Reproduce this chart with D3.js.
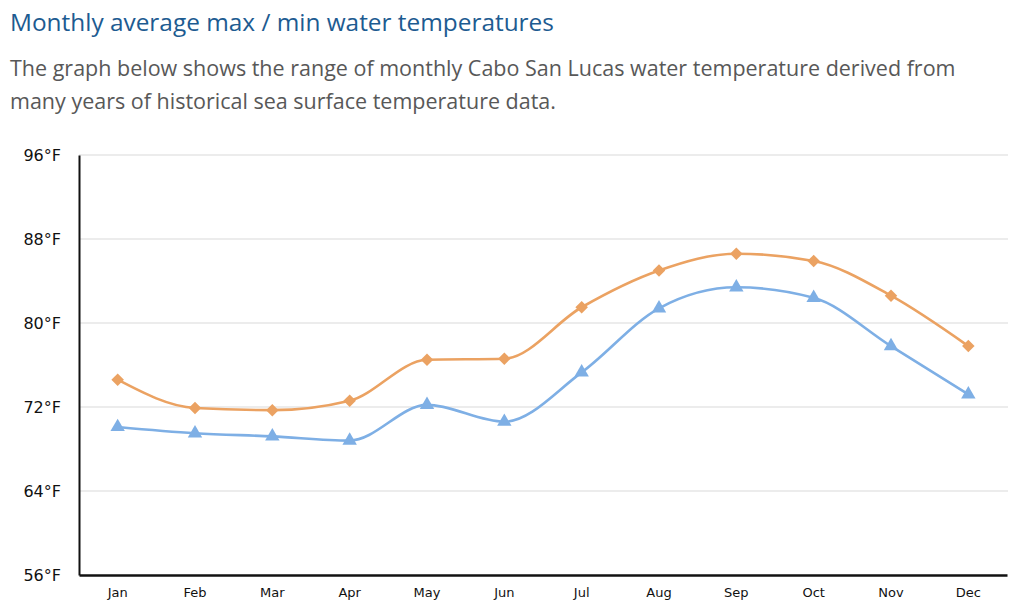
<!DOCTYPE html>
<html><head><meta charset="utf-8">
<script src="https://cdn.jsdelivr.net/npm/d3@7"></script>
<style>
body{margin:0;background:#fff;}
svg{display:block;}
</style></head>
<body>
<svg id="c" width="1024" height="615"></svg>
<script>
const months = ["Jan","Feb","Mar","Apr","May","Jun","Jul","Aug","Sep","Oct","Nov","Dec"];
const maxTemps = [74.6,71.9,71.7,72.6,76.5,76.6,81.5,85.0,86.6,85.9,82.6,77.8];
const minTemps = [70.1,69.5,69.2,68.8,72.2,70.6,75.3,81.4,83.4,82.4,77.8,73.2];
const yTicks = [56,64,72,80,88,96];
const titleText = "Monthly average max / min water temperatures";
const subtitleLines = ["The graph below shows the range of monthly Cabo San Lucas water temperature derived from",
                       "many years of historical sea surface temperature data."];

const svg = d3.select("#c");
const L = 79, R = 1007, T = 155, B = 575;

svg.append("text").attr("x",10).attr("y",31).attr("fill","#1d5b91")
  .style("font-family","'Open Sans'").style("font-size","24.4px").text(titleText);
subtitleLines.forEach((s,i)=>{
  svg.append("text").attr("x",10).attr("y",76+i*33).attr("fill","#585858")
    .style("font-family","'Open Sans'").style("font-size","21.5px").text(s);
});

const x = d3.scaleBand().domain(months).range([L,R]);
const y = d3.scaleLinear().domain([56,96]).range([B,T]);

// gridlines
svg.append("g").selectAll("line").data(yTicks.slice(1)).join("line")
  .attr("x1",L).attr("x2",R+1).attr("y1",d=>y(d)).attr("y2",d=>y(d))
  .attr("stroke","#e6e6e6").attr("stroke-width",1.5);

// y axis
const ya = svg.append("g").attr("transform",`translate(${L},0)`)
  .call(d3.axisLeft(y).tickValues(yTicks).tickSize(0).tickPadding(18).tickFormat(d=>d+"°F"));
ya.select(".domain").attr("stroke","#111").attr("stroke-width",2);
ya.selectAll("text").style("font-family","'DejaVu Sans'").style("font-size","16px").attr("fill","#111");

// x axis
const xa = svg.append("g").attr("transform",`translate(0,${B})`)
  .call(d3.axisBottom(x).tickSize(0).tickPadding(13));
xa.select(".domain").attr("stroke","#111").attr("stroke-width",2.5);
xa.selectAll("text").style("font-family","'DejaVu Sans'").style("font-size","13px").attr("fill","#111");

const cx = m => x(m)+x.bandwidth()/2;
const line = d3.line().x((d,i)=>cx(months[i])).y(d=>y(d)).curve(d3.curveMonotoneX);

const orange = "#eba262", blue = "#7eafe5";
svg.append("path").datum(maxTemps).attr("d",line).attr("fill","none").attr("stroke",orange).attr("stroke-width",2.6);
svg.append("path").datum(minTemps).attr("d",line).attr("fill","none").attr("stroke",blue).attr("stroke-width",2.6);

const diamond = d3.symbol().type(d3.symbolDiamond2).size(100);
svg.append("g").selectAll("path").data(maxTemps).join("path")
  .attr("d",diamond).attr("fill",orange)
  .attr("transform",(d,i)=>`translate(${cx(months[i])},${y(d)})`);
const tri = d3.symbol().type(d3.symbolTriangle).size(90);
svg.append("g").selectAll("path").data(minTemps).join("path")
  .attr("d",tri).attr("fill",blue)
  .attr("transform",(d,i)=>`translate(${cx(months[i])},${y(d)})`);
</script>
</body></html>
